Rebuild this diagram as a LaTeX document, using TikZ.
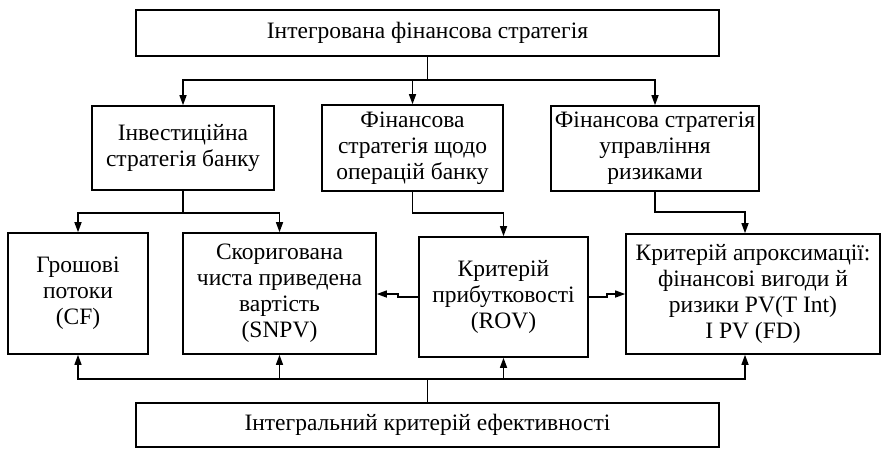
\documentclass[tikz,border=0pt]{standalone}
\usepackage{fontspec}
\setmainfont{Liberation Serif}
\usetikzlibrary{arrows.meta}
\begin{document}
\begin{tikzpicture}[x=1pt,y=-1pt,
  box/.style={draw,line width=1.6pt,rectangle,inner sep=0pt,align=center,
    font=\fontsize{23.5}{26}\selectfont},
  conn/.style={line width=1.4pt},
  arr/.style={conn,-{Triangle[length=10pt,width=7pt]}}]
\useasboundingbox (0,0) rectangle (886,448);
\node[box,minimum width=583pt,minimum height=46pt] (top) at (427.5,33) {Інтегрована фінансова стратегія};
\node[box,minimum width=182pt,minimum height=84pt] (A) at (183,148) {Інвестиційна\\стратегія банку};
\node[box,minimum width=181pt,minimum height=86pt] (B) at (412.5,148) {Фінансова\\стратегія щодо\\операцій банку};
\node[box,minimum width=208pt,minimum height=85pt] (C) at (655,148.5) {Фінансова стратегія\\управління\\ризиками};
\node[box,minimum width=140pt,minimum height=121pt] (D) at (78,293.5) {Грошові\\потоки\\(CF)};
\node[box,minimum width=193pt,minimum height=121pt] (E) at (279.5,293.5) {Скоригована\\чиста приведена\\вартість\\(SNPV)};
\node[box,minimum width=169pt,minimum height=120pt] (F) at (503.5,297) {Критерій\\прибутковості\\(ROV)};
\node[box,minimum width=254pt,minimum height=120pt] (G) at (753,294) {Критерій апроксимації:\\фінансові вигоди й\\ризики PV(T Int)\\I PV (FD)};
\node[box,minimum width=583pt,minimum height=44pt] (bot) at (427.5,425) {Інтегральний критерій ефективності};
% top distribution
\coordinate (j1) at (427.5,80);
\draw[conn] (top.south) -- (j1);
\draw[arr] (j1) -| (A.north);
\draw[arr] (j1) -| (B.north);
\draw[arr] (j1) -| (C.north);
% A to D, E
\coordinate (jA) at (183,213);
\draw[conn] (A.south) -- (jA);
\draw[arr] (jA) -| (D.north);
\draw[arr] (jA) -| (E.north);
% B to F
\coordinate (jB) at (412.5,213);
\draw[arr] (B.south) -- (jB) -| (F.north);
% C to G
\coordinate (jC) at (655,212);
\coordinate (gx) at (745,212);
\draw[arr] (C.south) -- (jC) -- (gx) -- (gx |- G.north);
% F to E and G
\coordinate (fe1) at (398,297);
\coordinate (fe2) at (398,294);
\draw[arr] (F.west) -- (fe1) -- (fe2) -- (fe2 -| E.east);
\coordinate (fg1) at (607,297);
\coordinate (fg2) at (607,294);
\draw[arr] (F.east) -- (fg1) -- (fg2) -- (G.west);
% bottom distribution
\coordinate (jb) at (427.5,379);
\coordinate (gb) at (745,379);
\draw[conn] (bot.north) -- (jb);
\draw[arr] (jb) -| (D.south);
\draw[arr] (jb) -| (E.south);
\draw[arr] (jb) -| (F.south);
\draw[arr] (jb) -- (gb) -- (gb |- G.south);
\end{tikzpicture}
\end{document}
